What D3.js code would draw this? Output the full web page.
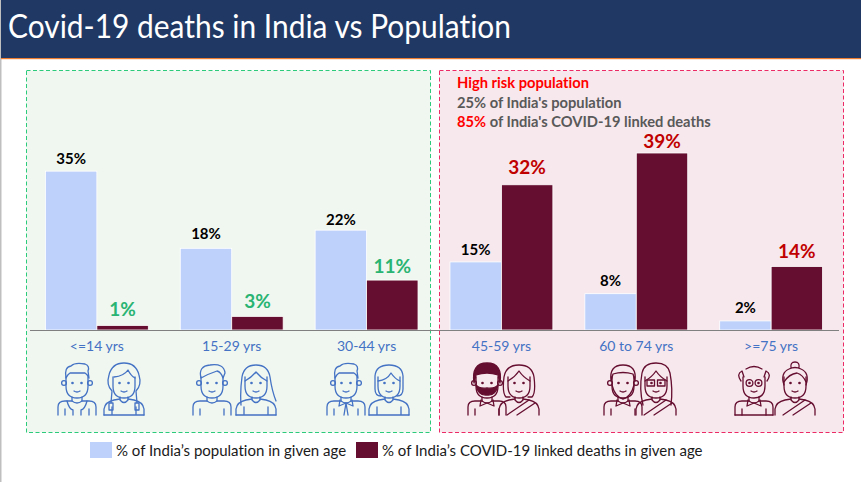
<!DOCTYPE html>
<html>
<head>
<meta charset="utf-8">
<script src="https://cdn.jsdelivr.net/npm/d3@7"></script>
<style>
  html, body { margin: 0; padding: 0; background: #fff; }
  svg { display: block; }
  text { font-family: Lato, "Open Sans", sans-serif; font-variant-ligatures: none; }
</style>
</head>
<body>
<div id="chart"></div>
<script>
var ages = ["<=14 yrs", "15-29 yrs", "30-44 yrs", "45-59 yrs", "60 to 74 yrs", ">=75 yrs"];
var population = [35, 18, 22, 15, 8, 2];
var deaths = [1, 3, 11, 32, 39, 14];
var seriesNames = ["% of India\u2019s population in given age", "% of India\u2019s COVID-19 linked deaths in given age"];
var titleText = "Covid-19 deaths in India vs Population";
var noteLines = ["High risk population", "25% of India's population", "of India's COVID-19 linked deaths"];
var noteShare = "85%";
// hair styles per age group, picked by eye
var manHair = ["quiff", "side", "quiff", "beardDark", "beard", "bald"];
var womanHair = ["braids", "long", "bob", "parted", "glasses", "bun"];

var W = 861, H = 482;
var BLUE = "#bdd1fb", MAROON = "#650e2f", ICON_BLUE = "#4472c4";

var svg = d3.select("#chart").append("svg").attr("width", W).attr("height", H);

svg.append("rect").attr("width", W).attr("height", H).attr("fill", "#fff");
svg.append("rect").attr("width", 1.5).attr("height", H).attr("fill", "#bfbfbf");

// header
svg.append("rect").attr("x", 1).attr("width", W).attr("height", 58).attr("fill", "#1f3864");
svg.append("rect").attr("x", 1).attr("y", 58).attr("width", W).attr("height", 1.2).attr("fill", "#ed7d31");
svg.append("text").attr("x", 8).attr("y", 38).attr("fill", "#fff")
    .attr("font-size", 32).attr("textLength", 503).attr("lengthAdjust", "spacingAndGlyphs")
    .text(titleText);

// the two background panels
svg.append("rect").attr("x", 26.5).attr("y", 70.5).attr("width", 404).attr("height", 362)
    .attr("fill", "#f0f7f0").attr("stroke", "#2bcb7b").attr("stroke-dasharray", "4,2.5");
svg.append("rect").attr("x", 439.5).attr("y", 70.5).attr("width", 404).attr("height", 362)
    .attr("fill", "#f7e8ed").attr("stroke", "#ec2a66").attr("stroke-dasharray", "4,2.5");

// scales
var x = d3.scaleBand().domain(ages).range([29.5, 838.5]).paddingInner(0.237).paddingOuter(0.118);
var xSeries = d3.scaleBand().domain([0, 1]).range([0, x.bandwidth()]);
var y = d3.scaleLinear().domain([0, 39]).range([330, 153]);

// gap between bar top and its label, the source labels were placed by hand
var populationGap = [7, 9, 5, 7, 8, 8];
var deathsGap = [9, 8, 7, 11, 5, 8];

// bars
var groups = svg.selectAll("g.age").data(ages).enter().append("g")
    .attr("class", "age")
    .attr("transform", d => `translate(${x(d)},0)`);

groups.append("rect")
    .attr("x", xSeries(0)).attr("width", xSeries.bandwidth())
    .attr("y", (d, i) => y(population[i]))
    .attr("height", (d, i) => y(0) - y(population[i]))
    .attr("fill", BLUE).attr("stroke", "#fff").attr("stroke-width", 0.8);

groups.append("rect")
    .attr("x", xSeries(1)).attr("width", xSeries.bandwidth())
    .attr("y", (d, i) => y(deaths[i]))
    .attr("height", (d, i) => y(0) - y(deaths[i]))
    .attr("fill", MAROON).attr("stroke", "#fff").attr("stroke-width", 0.8);

groups.append("text")
    .attr("x", xSeries(0) + xSeries.bandwidth() / 2)
    .attr("y", (d, i) => y(population[i]) - populationGap[i])
    .attr("text-anchor", "middle").attr("font-size", 15).attr("font-weight", 700).attr("fill", "#000")
    .text((d, i) => population[i] + "%");

groups.append("text")
    .attr("x", xSeries(1) + xSeries.bandwidth() / 2)
    .attr("y", (d, i) => y(deaths[i]) - deathsGap[i])
    .attr("text-anchor", "middle").attr("font-size", 19).attr("font-weight", 700)
    .attr("fill", (d, i) => i < 3 ? "#29b473" : "#c00000")
    .text((d, i) => deaths[i] + "%");

// axis
var axis = svg.append("g").attr("transform", `translate(0,${y(0)})`)
    .call(d3.axisBottom(x).tickSize(0).tickPadding(11));
axis.select(".domain").attr("stroke", "#808080").attr("stroke-width", 1);
axis.selectAll("text").attr("fill", ICON_BLUE).attr("font-size", 14)
    .style("font-family", "Lato, 'Open Sans', sans-serif");

// note in the high risk panel
var note = svg.append("g").attr("font-size", 14.7).attr("font-weight", 700);
note.append("text").attr("x", 457).attr("y", 88).attr("fill", "#ff0000").text(noteLines[0]);
note.append("text").attr("x", 457).attr("y", 108).attr("fill", "#595959").text(noteLines[1]);
var line3 = note.append("text").attr("x", 457).attr("y", 127).attr("fill", "#595959");
line3.append("tspan").attr("fill", "#ff0000").text(noteShare);
line3.append("tspan").text(" " + noteLines[2]);

// people icons, local coordinates: x centred, y from 0 to 52
function face(g, showEars) {
    g.append("path").attr("d", "M-11,14 V23 Q-11,35 0,35 Q11,35 11,23 V14");
    if (showEars) {
        g.append("circle").attr("cx", -13).attr("cy", 20).attr("r", 2.4);
        g.append("circle").attr("cx", 13).attr("cy", 20).attr("r", 2.4);
    }
    g.append("circle").attr("cx", -4.5).attr("cy", 20).attr("r", 0.7);
    g.append("circle").attr("cx", 4.5).attr("cy", 20).attr("r", 0.7);
    g.append("path").attr("d", "M-3,28 Q0,30 3,28");
}

var manHairPaths = {
    quiff: "M-11,15 Q-13,4 -6,3 Q-2,-1 8,1 Q13,3 11,8 L12,15 Q10,11 8,10 L-7,10 Q-9,11 -11,15",
    side: "M-11,15 Q-14,3 -2,2 Q12,0 13,10 L11,15 Q9,9 5,8 Q-4,11 -11,15",
    beardDark: "M-13,20 Q-16,0 0,0 Q16,0 13,20 L11,12 Q0,8 -11,12 Z M-11,22 Q-8,26 0,25 Q8,26 11,22 Q9,33 0,32 Q-9,33 -11,22 Z",
    beard: "M-12,18 Q-14,2 0,2 Q14,2 12,18 L10,11 Q0,8 -10,11 Z M-11,22 Q-8,34 0,36 Q8,34 11,22",
    bald: "M-13,18 Q-18,11 -12,8 L-10,14 M13,18 Q18,11 12,8 L10,14 M-8,6 Q0,1 8,6"
};

function drawMan(g, style, i) {
    g.append("path").attr("d", manHairPaths[style]).attr("fill", style == "beardDark" ? MAROON : "none");
    face(g, style != "bald");
    if (style == "bald") {
        g.append("circle").attr("cx", -4.5).attr("cy", 20).attr("r", 3.4);
        g.append("circle").attr("cx", 4.5).attr("cy", 20).attr("r", 3.4);
    }
    g.append("path").attr("d", "M-5,34 V38 Q0,42 5,38 V34");
    g.append("path").attr("d", "M-19,52 V44 Q-19,38 -12,38 H-5 M19,52 V44 Q19,38 12,38 H5");
    g.append("path").attr("d", "M-12,52 V46 M12,52 V46");
    if (i == 0) g.append("path").attr("d", "M-10,38 Q-8,46 -4,47 M10,38 Q8,46 4,47 M-4,47 V52 M4,47 V52");
    if (i >= 2) g.append("path").attr("d", "M-6,37 L-7,43 L0,40 L7,43 L6,37");
    if (i == 2) g.append("path").attr("d", "M0,40 L-2,52 M0,40 L2,52");
    if (style == "bald") g.append("path").attr("d", "M-19,52 H19");
}

var womanHairPaths = {
    braids: "M-10,14 Q0,13 4,7 Q7,13 11,15 M-12,28 Q-18,22 -15,12 Q-12,0 0,0 Q12,0 15,12 Q18,22 12,28 L13,40 M-12,28 L-13,40 M-15,40 H-11 V47 H-15 Z M11,40 H15 V47 H11 Z",
    long: "M-11,18 Q-4,14 0,9 Q5,15 11,18 M-15,42 Q-16,28 -14,14 Q-12,2 0,2 Q12,2 14,14 Q16,28 20,38",
    bob: "M-11,18 Q-2,17 2,10 Q6,16 11,18 M-8,33 Q-14,33 -14,26 V13 Q-13,2 0,2 Q13,2 14,13 V26 Q14,33 8,33",
    parted: "M-11,18 Q-4,14 0,8 Q4,14 11,18 M-9,34 H-13 Q-17,30 -15,14 Q-13,2 0,2 Q13,2 15,14 Q17,30 13,34 H9",
    glasses: "M-11,18 Q-4,14 0,8 Q4,14 11,18 M-13,42 Q-17,26 -14,10 Q-12,0 0,0 Q12,0 14,10 Q17,26 15,42",
    bun: "M-11,19 Q-6,11 2,10 Q8,12 11,19 M-11,22 Q-15,10 -6,6 Q0,3 6,6 Q15,10 11,22 M-4,5 Q-5,-1 0,-1 Q5,-1 4,5"
};

function drawWoman(g, style, sari) {
    g.append("path").attr("d", womanHairPaths[style]);
    face(g, false);
    if (style == "glasses") {
        g.append("rect").attr("x", -9).attr("y", 17).attr("width", 7.5).attr("height", 6);
        g.append("rect").attr("x", 1.5).attr("y", 17).attr("width", 7.5).attr("height", 6);
    }
    g.append("path").attr("d", "M-4,34 V37 Q0,42 4,37 V34");
    g.append("path").attr("d", "M-20,52 V46 Q-19,39 -10,37 L-4,36 M20,52 V46 Q19,39 10,37 L4,36");
    if (sari) {
        g.append("path").attr("d", "M-12,52 L10,37 M-2,52 L16,40");
    } else {
        g.append("path").attr("d", "M-20,52 H20 M-12,52 V44 M12,52 V44");
    }
}

// where each pair of people sits under its age group
var iconMid = [100.5, 234, 367.5, 503, 639.5, 774.5];
var iconGap = [23.5, 22, 21.5, 16, 16.5, 20.5];

ages.forEach(function(d, i) {
    var color = i < 3 ? ICON_BLUE : MAROON;
    var row = svg.append("g").attr("fill", "none").attr("stroke", color)
        .attr("stroke-width", 1.3).attr("stroke-linejoin", "round").attr("stroke-linecap", "round");
    var man = row.append("g").attr("transform", `translate(${iconMid[i] - iconGap[i]},363)`);
    var woman = row.append("g").attr("transform", `translate(${iconMid[i] + iconGap[i]},363)`);
    drawMan(man, manHair[i], i);
    drawWoman(woman, womanHair[i], i >= 3);
});

// legend
var legendX = [90, 356];
var legend = svg.selectAll("g.legend").data(seriesNames).enter().append("g")
    .attr("class", "legend")
    .attr("transform", (d, i) => `translate(${legendX[i]},442)`);
legend.append("rect").attr("width", 22).attr("height", 16).attr("fill", (d, i) => i == 0 ? BLUE : MAROON);
legend.append("text").attr("x", 26).attr("y", 13.5).attr("font-size", 15).attr("fill", "#1a1a1a").text(d => d);
</script>
</body>
</html>
